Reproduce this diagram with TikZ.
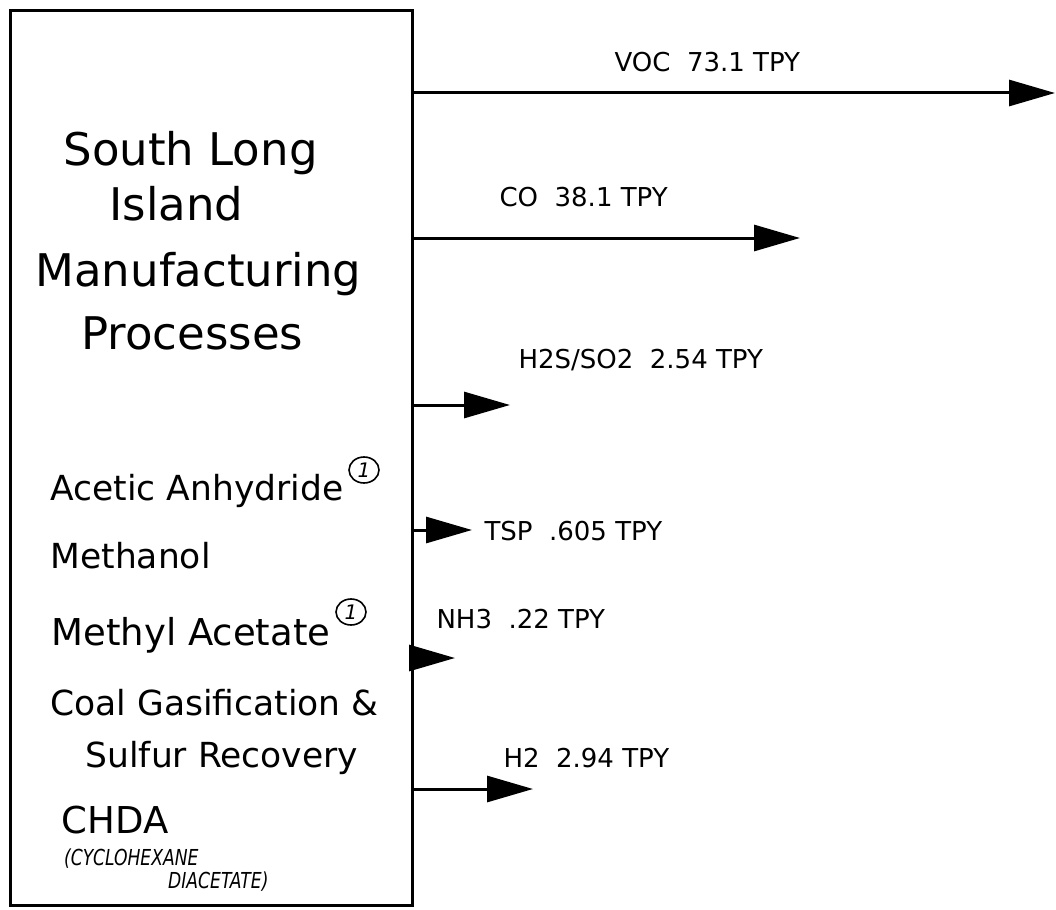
\documentclass[tikz,border=0pt]{standalone}
\usepackage{fontspec}
\setmainfont{DejaVu Sans}
\usepackage{tikz}
\usetikzlibrary{arrows.meta,shapes.geometric}
\newcommand{\titlesize}{\fontsize{45}{50}\selectfont}
\newcommand{\itemsize}{\fontsize{34.5}{38}\selectfont}
\newcommand{\bigitemsize}{\fontsize{37}{42}\selectfont}
\newcommand{\lblsize}{\fontsize{26}{30}\selectfont}
\newcommand{\handsize}{\fontsize{22}{24}\selectfont\itshape}
\newcommand{\proc}[4]{\node[anchor=base west,font=#1] (#2) at (#3) {#4};}
\newcommand{\hand}[3]{\node[anchor=base west,font=\handsize,inner sep=0pt] (#1) at (#2) {\scalebox{0.78}[1]{#3}};}
\newcommand{\emit}[6]{%
  \coordinate (#1) at (#3,#2);
  \draw[line width=3pt,-{Triangle[length=46pt,width=26pt]}] (plant.east |- #1) -- (#1);
  \node[anchor=base west,font=\lblsize] (#1lbl) at (#4,#5) {#6};}
\newcommand{\note}[2]{\node[draw,ellipse,line width=1.6pt,minimum width=30pt,minimum height=26pt,
  inner sep=0pt,font=\fontsize{20}{22}\selectfont\itshape] (#1) at (#2) {1};}

\begin{document}
\begin{tikzpicture}[x=1pt,y=-1pt]
    \useasboundingbox (0,0) rectangle (1056,909);
    % plant box
    \node[draw,line width=3pt,minimum width=402pt,minimum height=895pt,
      anchor=north west,inner sep=0pt] (plant) at (9,9) {};
    % title
    \proc{\titlesize}{tsouth}{60,166}{South Long}
    \proc{\titlesize}{tisland}{106,221}{Island}
    \proc{\titlesize}{tmanuf}{32,286}{Manufacturing}
    \proc{\titlesize}{tproc}{78,349}{Processes}
    % processes
    \proc{\itemsize}{acetic}{47,500}{Acetic Anhydride}
    \note{noteA}{364,470}
    \proc{\itemsize}{methanol}{47,568}{Methanol}
    \proc{\bigitemsize}{methyl}{48,645}{Methyl Acetate}
    \note{noteB}{351,612}
    \proc{\itemsize}{coal}{47,715}{Coal Gasification \&}
    \proc{\itemsize}{sulfur}{82,767}{Sulfur Recovery}
    \proc{\bigitemsize}{chda}{58,833}{CHDA}
    \hand{chdaA}{64,865}{(CYCLOHEXANE}
    \hand{chdaB}{168,888}{DIACETATE)}
    % emissions
    \emit{voc}{93}{1055}{611}{72}{VOC\ \ 73.1 TPY}
    \emit{co}{238}{800}{496}{207}{CO\ \ 38.1 TPY}
    \emit{hts}{405}{510}{515}{368}{H2S/SO2\ \ 2.54 TPY}
    \emit{tsp}{530}{472}{481}{540}{TSP\ \ .605 TPY}
    \emit{nh}{658}{455}{433}{628}{NH3\ \ .22 TPY}
    \emit{htwo}{789}{533}{500}{767}{H2\ \ 2.94 TPY}
\end{tikzpicture}
\end{document}
